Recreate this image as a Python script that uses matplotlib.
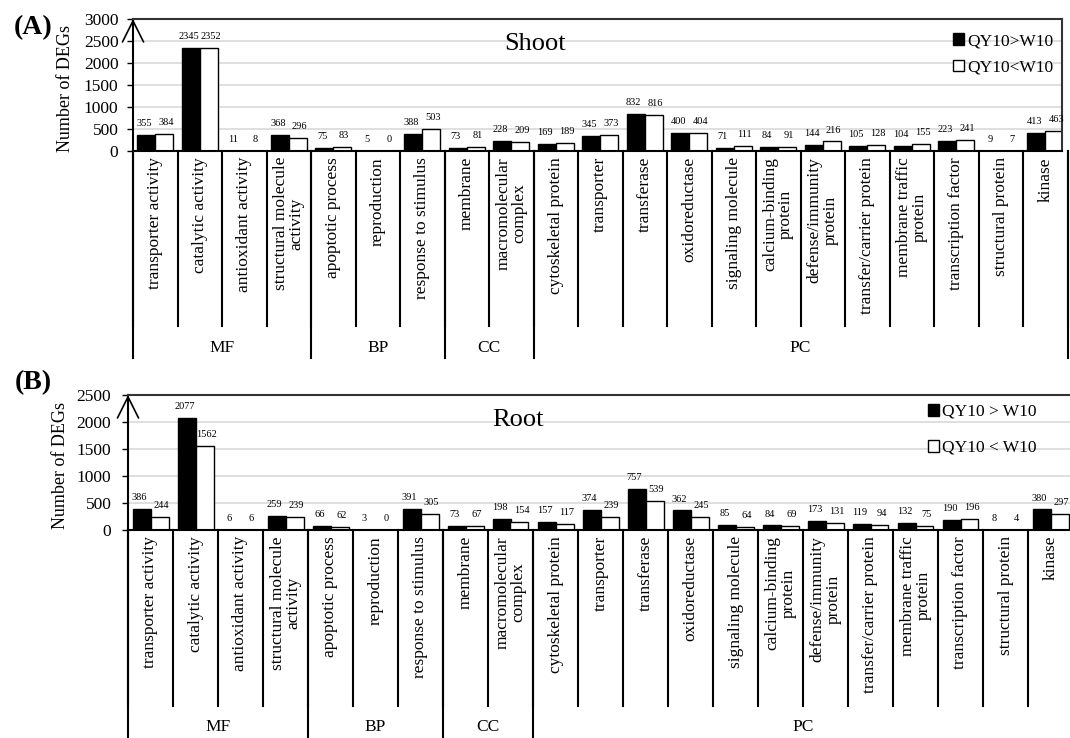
import numpy as np
import matplotlib
matplotlib.use("Agg")
import matplotlib.pyplot as plt
from matplotlib.transforms import blended_transform_factory
from matplotlib.patches import Patch

plt.rcParams['font.family'] = ['Liberation Serif', 'DejaVu Sans']

categories = ["transporter activity", "catalytic activity", "antioxidant activity",
              "structural molecule\nactivity", "apoptotic process", "reproduction",
              "response to stimulus", "membrane", "macromolecular\ncomplex",
              "cytoskeletal protein", "transporter", "transferase", "oxidoreductase",
              "signaling molecule", "calcium-binding\nprotein", "defense/immunity\nprotein",
              "transfer/carrier protein", "membrane traffic\nprotein", "transcription factor",
              "structural protein", "kinase"]
groups = ["MF", "BP", "CC", "PC"]
group_sizes = [4, 3, 2, 12]

shoot_up = [355, 2345, 11, 368, 75, 5, 388, 73, 228, 169, 345, 832, 400, 71, 84,
            144, 105, 104, 223, 9, 413]
shoot_down = [384, 2352, 8, 296, 83, 0, 503, 81, 209, 189, 373, 816, 404, 111, 91,
              216, 128, 155, 241, 7, 463]
root_up = [386, 2077, 6, 259, 66, 3, 391, 73, 198, 157, 374, 757, 362, 85, 84,
           173, 119, 132, 190, 8, 380]
root_down = [244, 1562, 6, 239, 62, 0, 305, 67, 154, 117, 239, 539, 245, 64, 69,
             131, 94, 75, 196, 4, 297]

W, H = 1070, 738
fig = plt.figure(figsize=(W / 100, H / 100), dpi=100)


def fx(px):
    return px / W


def fy(py):
    return 1 - py / H


def make_panel(left, top, right, bottom, cell, up, down, ymax, title, title_pos,
               legend_labels, legend_anchor, legend_spacing, cat_bottom, grp_bottom,
               grp_label_y, letter, letter_y, ylabel_x, tick_pad, right_border=True):
    ax = fig.add_axes([fx(left), fy(bottom), fx(right - left), (bottom - top) / H])
    x = np.arange(len(categories))
    w = 0.4
    ax.bar(x - w / 2, up, w, color='black', edgecolor='black', linewidth=1.0)
    ax.bar(x + w / 2, down, w, color='white', edgecolor='black', linewidth=1.0)
    # value labels, nudged apart a little so the pairs do not run together
    for xs, vals, dx in ((x - w / 2, up, -1.5), (x + w / 2, down, 1.5)):
        for xi, v in zip(xs, vals):
            ax.annotate(str(v), (xi, v), xytext=(dx, 5), textcoords='offset points',
                        ha='center', va='bottom', fontsize=7.5, annotation_clip=False)

    ax.set_xlim(-0.5, -0.5 + (right - left) / cell)
    ax.set_ylim(0, ymax)
    ax.set_yticks(np.arange(0, ymax + 1, 500))
    ax.set_xticks([])
    ax.yaxis.grid(True, color='#d9d9d9', linewidth=1.2)
    ax.set_axisbelow(True)
    ax.tick_params(axis='y', direction='out', length=4, width=1.0,
                   labelsize=12.5, pad=tick_pad)
    for s in ('left', 'bottom'):
        ax.spines[s].set_linewidth(1.5)
        ax.spines[s].set_color('black')
    ax.spines['top'].set_linewidth(1.5)
    ax.spines['top'].set_color('#333333')
    ax.spines['right'].set_linewidth(1.5)
    ax.spines['right'].set_color('#333333')
    ax.spines['right'].set_visible(right_border)

    # open arrow head at the top of the y axis
    ax.annotate('', xy=(-0.5, ymax), xytext=(-0.5, ymax * 0.7),
                arrowprops=dict(arrowstyle='->', lw=1.2, color='black',
                                mutation_scale=38, shrinkA=0, shrinkB=0),
                annotation_clip=False)

    fig.text(fx(title_pos[0]), fy(title_pos[1]), title, fontsize=19,
             ha='center', va='center')

    ax.legend([Patch(facecolor='black', edgecolor='black'),
               Patch(facecolor='white', edgecolor='black')], legend_labels,
              loc='upper right', bbox_to_anchor=(fx(legend_anchor[0]), fy(legend_anchor[1])),
              bbox_transform=fig.transFigure, frameon=False, fontsize=12.5,
              handlelength=0.65, handleheight=0.65, handletextpad=0.15,
              labelspacing=legend_spacing, borderpad=0, borderaxespad=0)

    # two level category axis below the bars
    tr = blended_transform_factory(ax.transData, fig.transFigure)
    y0 = fy(bottom)
    for i, name in enumerate(categories):
        ax.text(i, fy(bottom + 6), name, rotation=90, ha='center', va='top',
                multialignment='center', fontsize=12.5, transform=tr,
                linespacing=1.0)
    for i in range(len(categories) + 1):
        ax.plot([i - 0.5, i - 0.5], [y0, fy(cat_bottom)], color='black', lw=1.5,
                transform=tr, clip_on=False)
    edges = np.concatenate([[0], np.cumsum(group_sizes)]) - 0.5
    for e in edges:
        ax.plot([e, e], [y0, fy(grp_bottom)], color='black', lw=1.5,
                transform=tr, clip_on=False)
    for g, a, b in zip(groups, edges[:-1], edges[1:]):
        ax.text((a + b) / 2, fy(grp_label_y), g, ha='center', va='center',
                fontsize=12.5, transform=tr)

    fig.text(fx(ylabel_x), fy((top + bottom) / 2 + 3), "Number of DEGs", rotation=90,
             ha='center', va='center', fontsize=13)
    fig.text(fx(33), fy(letter_y), letter, fontsize=20, fontweight='bold',
             ha='center', va='center')
    return ax


make_panel(133, 19, 1062, 151, 44.5, shoot_up, shoot_down, 3000, "Shoot", (535, 44),
           ["QY10>W10", "QY10<W10"], (1053, 33), 0.62, 326, 358, 348,
           "(A)", 28, 65, 6.5)
make_panel(128, 395, 1070, 530, 45.0, root_up, root_down, 2500, "Root", (518, 420),
           ["QY10 > W10", "QY10 < W10"], (1036, 404), 1.15, 706, 740, 727,
           "(B)", 383, 61, 8, right_border=False)

fig.savefig("out.png", dpi=100)
